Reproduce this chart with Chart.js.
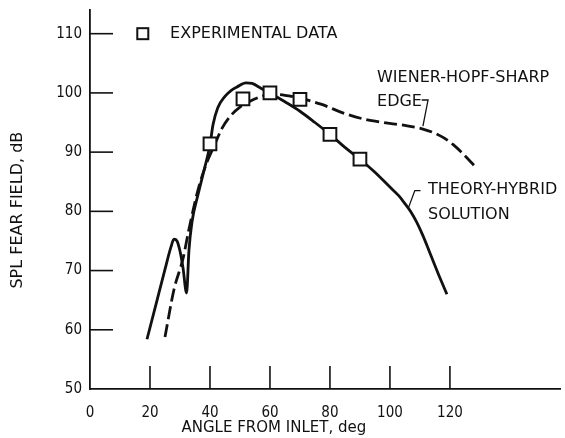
<!DOCTYPE html>
<html>
<head>
<meta charset="utf-8">
<script src="https://cdn.jsdelivr.net/npm/chart.js@4/dist/chart.umd.min.js"></script>
<style>
  html, body { margin: 0; padding: 0; background: #fff; }
  canvas { display: block; }
</style>
</head>
<body>
<canvas id="spl" width="565" height="438"></canvas>
<script>
// experimental data (squares)
var exp_angle = [40, 51, 60, 70, 80, 90];
var exp_spl = [91.4, 99.0, 100.0, 98.9, 93.0, 88.8];

// theory - hybrid solution (solid)
var hybrid_angle = [19, 22, 25, 27, 28, 29, 30, 31, 32.2, 33, 34, 36, 38, 40, 41, 42.6, 45, 47, 49, 52, 54, 57, 60, 65, 70, 75, 80, 85, 90, 95, 100, 103, 105, 107, 109, 111, 113, 116, 119];
var hybrid_spl = [58.4, 64.3, 70.2, 74.0, 75.3, 75.0, 73.3, 70.5, 66.2, 73.5, 78.2, 82.8, 86.9, 91.2, 94.6, 97.5, 99.4, 100.4, 101.0, 101.7, 101.6, 100.8, 100.0, 98.5, 96.9, 95.0, 93.0, 90.8, 88.8, 86.6, 84.1, 82.6, 81.3, 79.9, 78.1, 75.9, 73.4, 69.6, 66.0];

// wiener-hopf sharp edge (dashed)
var wh_angle = [25, 28, 31, 33, 36, 39, 41, 44, 47, 50, 53, 57, 60, 65, 70, 77, 85, 92, 98, 105, 111, 115, 118, 121, 124, 128.7];
var wh_spl = [58.8, 66.8, 72.0, 77.0, 83.6, 88.3, 90.6, 94.0, 96.2, 97.6, 98.5, 99.4, 99.8, 99.6, 99.1, 98.1, 96.5, 95.5, 95.0, 94.5, 93.9, 93.2, 92.4, 91.3, 89.9, 87.4];

var x_ticks = [0, 20, 40, 60, 80, 100, 120];
var y_ticks = [50, 60, 70, 80, 90, 100, 110];

var TICK_FONT = "'DejaVu Sans Condensed', 'Liberation Sans Narrow', 'DejaVu Sans', sans-serif";
var TEXT_FONT = "'DejaVu Sans', sans-serif";
var INK = "#111";

function pts(xs, ys) {
  return xs.map(function (x, i) { return { x: x, y: ys[i] }; });
}

// inward tick marks + labels / leaders drawn on the chart
var extras = {
  id: "extras",
  afterDraw: function (chart) {
    var c = chart.ctx;
    var xs = chart.scales.x, ys = chart.scales.y;
    var a = chart.chartArea;
    c.save();
    c.strokeStyle = INK;
    c.lineWidth = 1.6;
    x_ticks.forEach(function (v) {
      if (v === 0) return;
      var px = xs.getPixelForValue(v);
      c.beginPath(); c.moveTo(px, a.bottom); c.lineTo(px, a.bottom - 23); c.stroke();
    });
    y_ticks.forEach(function (v) {
      if (v === 50) return;
      var py = ys.getPixelForValue(v);
      c.beginPath(); c.moveTo(a.left, py); c.lineTo(a.left + 23, py); c.stroke();
    });

    function P(x, y) { return [xs.getPixelForValue(x), ys.getPixelForValue(y)]; }

    c.fillStyle = INK;
    c.font = "16px " + TEXT_FONT;
    c.textBaseline = "middle";
    c.textAlign = "left";

    // legend
    var q = P(17.6, 110.0);
    c.lineWidth = 2;
    c.fillStyle = "#fff";
    c.fillRect(q[0] - 5.5, q[1] - 5.5, 11, 11);
    c.strokeRect(q[0] - 5.5, q[1] - 5.5, 11, 11);
    c.fillStyle = INK;
    var t = P(26.7, 110.0);
    c.fillText("EXPERIMENTAL DATA", t[0], t[1]);

    t = P(95.7, 102.5);
    c.fillText("WIENER-HOPF-SHARP", t[0], t[1]);
    t = P(95.7, 98.5);
    c.fillText("EDGE", t[0], t[1]);
    t = P(112.7, 83.6);
    c.fillText("THEORY-HYBRID", t[0], t[1]);
    t = P(112.7, 79.4);
    c.fillText("SOLUTION", t[0], t[1]);

    // leader lines
    c.lineWidth = 1.3;
    var l1 = [P(110.6, 98.8), P(112.7, 98.8), P(111.0, 94.4)];
    var l2 = [P(110.2, 83.5), P(108.3, 83.5), P(106.1, 80.5)];
    [l1, l2].forEach(function (l) {
      c.beginPath();
      c.moveTo(l[0][0], l[0][1]);
      c.lineTo(l[1][0], l[1][1]);
      c.lineTo(l[2][0], l[2][1]);
      c.stroke();
    });

    // axis titles
    c.textAlign = "center";
    c.font = "15px " + TEXT_FONT;
    var xt = xs.getPixelForValue(61.3);
    c.fillText("ANGLE FROM INLET, deg", xt, a.bottom + 39);
    c.font = "16px " + TEXT_FONT;
    c.translate(18, ys.getPixelForValue(80.2));
    c.rotate(-Math.PI / 2);
    c.fillText("SPL FEAR FIELD, dB", 0, 0);
    c.restore();
  }
};

const ctx = document.getElementById("spl");

const chart = new Chart(ctx, {
  type: "scatter",
  data: {
    datasets: [
      {
        label: "EXPERIMENTAL DATA",
        data: pts(exp_angle, exp_spl),
        showLine: false,
        pointStyle: "rect",
        pointRadius: 9,
        pointBorderWidth: 2,
        pointBackgroundColor: "#fff",
        pointBorderColor: INK,
        order: 0,
      },
      {
        label: "THEORY-HYBRID SOLUTION",
        data: pts(hybrid_angle, hybrid_spl),
        showLine: true,
        borderColor: INK,
        borderWidth: 2.8,
        pointRadius: 0,
        cubicInterpolationMode: "monotone",
        order: 1,
      },
      {
        label: "WIENER-HOPF-SHARP EDGE",
        data: pts(wh_angle, wh_spl),
        showLine: true,
        borderColor: INK,
        borderWidth: 2.8,
        borderDash: [13, 5],
        pointRadius: 0,
        cubicInterpolationMode: "monotone",
        order: 2,
      },
    ],
  },
  options: {
    responsive: false,
    animation: false,
    layout: { autoPadding: false, padding: { top: 10, right: 5, left: 0, bottom: 0 } },
    plugins: {
      legend: { display: false },
      tooltip: { enabled: false },
    },
    scales: {
      x: {
        type: "linear",
        min: 0,
        max: 156.7,
        afterBuildTicks: function (s) {
          s.ticks = x_ticks.map(function (v) { return { value: v }; });
        },
        afterFit: function (s) {
          s.height = 49;
          s.paddingLeft = 0; s.paddingRight = 0;
        },
        grid: { display: false, drawTicks: false },
        border: { display: true, color: INK, width: 1.8 },
        ticks: {
          padding: 15,
          color: INK,
          maxRotation: 0,
          font: { family: TICK_FONT, size: 15 },
        },
      },
      y: {
        type: "linear",
        min: 50,
        max: 114,
        afterBuildTicks: function (s) {
          s.ticks = y_ticks.map(function (v) { return { value: v }; });
        },
        afterFit: function (s) {
          s.width = 90;
          s.paddingTop = 0; s.paddingBottom = 0;
        },
        grid: { display: false, drawTicks: false },
        border: { display: true, color: INK, width: 1.8 },
        ticks: {
          padding: 8,
          color: INK,
          font: { family: TICK_FONT, size: 15 },
        },
      },
    },
  },
  plugins: [extras],
});
</script>
</body>
</html>
